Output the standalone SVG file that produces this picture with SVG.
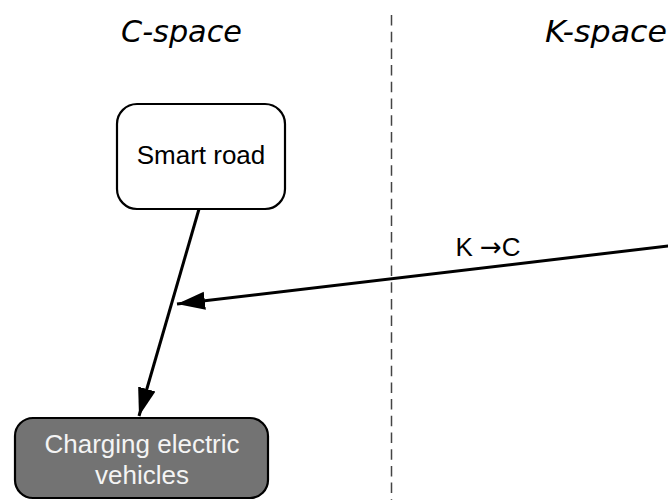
<svg xmlns="http://www.w3.org/2000/svg" width="668" height="500" viewBox="0 0 668 500">
<style>
.title{font-family:"Comic Sans MS","DejaVu Sans",sans-serif;font-style:italic;font-size:30px;fill:#000}
.node{stroke:#000;stroke-width:2.2}
.lbl{font-family:"Liberation Sans",Arial,sans-serif;font-size:26px;text-anchor:middle}
.sym{font-family:"DejaVu Sans",sans-serif}
.conn{stroke:#000;stroke-width:3;fill:none}
</style>
<defs>
<marker id="ah" markerUnits="userSpaceOnUse" markerWidth="30" markerHeight="24" viewBox="0 0 30 24" refX="28" refY="12" orient="auto">
<path d="M0,3 L28,12 L0,21 Z" fill="#000"/>
</marker>
</defs>
<rect width="668" height="500" fill="#fff"/>
<text class="title" x="121" y="42" textLength="121" lengthAdjust="spacingAndGlyphs">C-space</text>
<text class="title" x="545" y="42" textLength="122" lengthAdjust="spacingAndGlyphs">K-space</text>
<line x1="391.5" y1="15" x2="391.5" y2="500" stroke="#444" stroke-width="1.5" stroke-dasharray="10.5,6.2"/>
<g id="smart-road">
<rect class="node" x="117" y="104" width="168" height="105" rx="20" fill="#fff"/>
<text class="lbl" x="201" y="164" fill="#000">Smart road</text>
</g>
<g id="charging">
<rect class="node" x="15" y="418" width="253" height="80" rx="18" fill="#737373"/>
<text class="lbl" x="142" y="453" fill="#f4f4f4">Charging electric</text>
<text class="lbl" x="142" y="484" fill="#f4f4f4">vehicles</text>
</g>
<g id="connectors">
<line class="conn" x1="199" y1="209" x2="139" y2="416" marker-end="url(#ah)"/>
<line class="conn" x1="680" y1="244.6" x2="177" y2="304" marker-end="url(#ah)"/>
<text class="lbl" x="488" y="256" fill="#000">K <tspan class="sym">→</tspan>C</text>
</g>
</svg>
